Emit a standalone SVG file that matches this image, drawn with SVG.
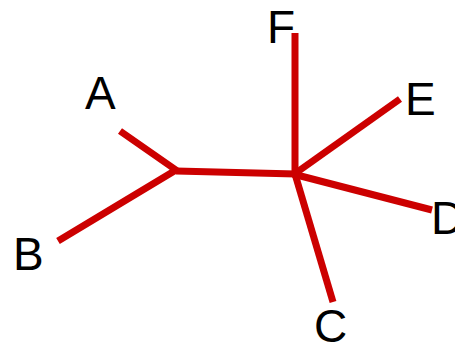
<svg xmlns="http://www.w3.org/2000/svg" width="455" height="345" viewBox="0 0 455 345">
<style>
.e{stroke:#cc0000;stroke-width:7;fill:none;stroke-linecap:butt;stroke-linejoin:round}
.l{font-family:"Liberation Sans",Arial,sans-serif;font-size:46px;fill:#000}
</style>
<rect width="455" height="345" fill="#fff"/>
<g id="edges">
<polyline class="e" points="120,131 176,170 58,241"/>
<line class="e" x1="176" y1="171" x2="296" y2="174"/>
<line class="e" x1="295" y1="33" x2="295" y2="175"/>
<line class="e" x1="293" y1="175" x2="400" y2="99"/>
<line class="e" x1="293" y1="174" x2="432" y2="210"/>
<line class="e" x1="295" y1="174" x2="333" y2="302"/>
</g>
<g id="A"><text class="l" x="85" y="109">A</text></g>
<g id="B"><text class="l" x="13" y="270">B</text></g>
<g id="F"><text class="l" x="267" y="43">F</text></g>
<g id="E"><text class="l" x="405" y="115">E</text></g>
<g id="D"><text class="l" x="431" y="234">D</text></g>
<g id="C"><text class="l" x="314" y="342">C</text></g>
</svg>
